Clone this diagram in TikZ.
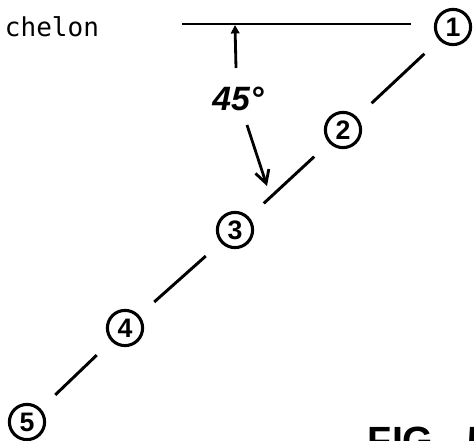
\documentclass[tikz,border=0pt]{standalone}
\usepackage{fontspec}
\setmainfont{Liberation Sans}
\setmonofont{DejaVu Sans Mono}
\usetikzlibrary{arrows.meta}

\begin{document}
\begin{tikzpicture}[
    x=0.025cm, y=-0.025cm,
    ship/.style={circle, draw, line width=2.2pt, minimum size=0.88cm, inner sep=0pt,
      font=\fontsize{19}{20}\selectfont\bfseries},
    stationline/.style={line width=2.1pt, shorten <=0.5cm, shorten >=0.5cm},
    refline/.style={line width=1.5pt},
    pointer/.style={line width=2pt},
    caption/.style={font=\fontsize{28}{30}\selectfont\bfseries, anchor=base west}
  ]
    \useasboundingbox (0,0) rectangle (474,441);
    \clip (0,0) rectangle (474,441);

    % ships of the echelon
    \node[ship] (c1) at (453,27) {1};
    \node[ship] (c2) at (343,130) {2};
    \node[ship] (c3) at (235,230) {3};
    \node[ship] (c4) at (125,328) {4};
    \node[ship] (c5) at (27,422) {5};

    \foreach \a/\b in {c1/c2, c2/c3, c3/c4, c4/c5}
      \draw[stationline] (\a) -- (\b);

    % reference bearing
    \coordinate (lineL) at (182,24);
    \draw[refline, shorten >=1.05cm] (lineL) -- (lineL -| c1);

    \node[font=\ttfamily\fontsize{18.5}{20}\selectfont, anchor=base west] (title) at (0,36) {chelon};

    % angle
    \node[font=\itshape\bfseries\fontsize{24}{26}\selectfont] (ang) at (238,99) {45°};
    \coordinate (upTip) at (235,25);
    \coordinate (upTail) at (236,68);
    \coordinate (downTail) at (247,125);
    \coordinate (downTip) at (267,186);
    \draw[pointer, -{Triangle[length=6pt, width=6pt]}] (upTail) -- (upTip);
    \draw[pointer, -{Straight Barb[length=9pt, width=10pt]}] (downTail) -- (downTip);

    \node[caption] (fig) at (363,454) {FIG.\hspace{0.3em} 5};
\end{tikzpicture}
\end{document}
